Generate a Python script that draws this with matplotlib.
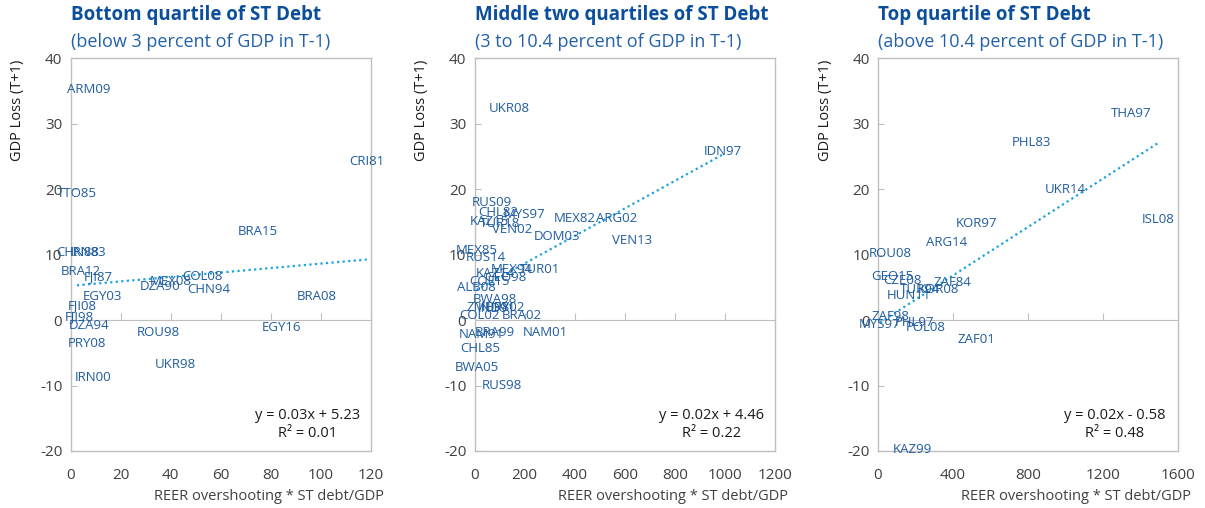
import matplotlib
matplotlib.use("Agg")
import matplotlib.pyplot as plt
import numpy as np

plt.rcParams['font.family'] = ['Open Sans', 'DejaVu Sans']
plt.rcParams['axes.unicode_minus'] = False

# bottom quartile of short-term debt
p1_names = ["ARM09", "CRI81", "TTO85", "BRA15", "CHN88", "IRN83", "BRA12", "FJI87",
            "MEX08", "DZA90", "COL08", "CHN94", "EGY03", "BRA08", "FJI08", "FJI98",
            "DZA94", "ROU98", "EGY16", "PRY08", "UKR98", "IRN00"]
p1_x = [7.3, 118.4, 2.5, 74.7, 2.9, 6.9, 4.1, 10.9, 39.8, 35.8, 52.6, 55.4, 12.6, 98.4,
        4.5, 3.3, 7.3, 35.0, 84.3, 6.5, 41.8, 8.9]
p1_y = [35.2, 24.2, 19.3, 13.6, 10.3, 10.3, 7.5, 6.6, 5.9, 5.1, 6.6, 4.6, 3.6, 3.6,
        2.2, 0.5, -0.9, -1.9, -1.2, -3.5, -6.8, -8.8]

# middle two quartiles
p2_names = ["UKR08", "IDN97", "RUS09", "CHL82", "MYS97", "KAZ15", "TUR18", "VEN02",
            "MEX82", "ARG02", "DOM03", "VEN13", "MEX85", "RUS14", "MEX94", "TUR01",
            "KAZ14", "GEO98", "COL15", "ALB08", "BWA98", "ZMB98", "IND91", "URY02",
            "COL02", "BRA02", "NAM91", "BRA99", "NAM01", "CHL85", "BWA05", "RUS98"]
p2_x = [137, 992, 68, 93, 201, 57, 101, 148, 401, 567, 328, 631, 10, 44, 148, 261,
        81, 121, 61, 8, 81, 53, 89, 121, 21, 188, 28, 81, 281, 21, 8, 108]
p2_y = [32.3, 25.7, 17.9, 16.4, 16.1, 15.0, 14.7, 13.8, 15.5, 15.5, 12.7, 12.2, 10.7,
        9.6, 7.8, 7.7, 7.1, 6.5, 5.9, 5.0, 3.1, 1.9, 1.7, 2.0, 0.7, 0.7, -2.2, -1.9,
        -1.9, -4.4, -7.2, -10.0]

# top quartile
p3_names = ["THA97", "PHL83", "UKR14", "ISL08", "KOR97", "ARG14", "ROU08", "GEO15",
            "CZE08", "ZAF84", "TUR94", "KOR08", "HUN11", "ZAF98", "MYS97", "PHL97",
            "POL08", "ZAF01", "KAZ99"]
p3_x = [1349, 820, 997, 1493, 526, 363, 64, 78, 132, 398, 224, 322, 162, 68, 11, 197,
        256, 523, 183]
p3_y = [31.5, 27.2, 19.9, 15.3, 14.8, 11.9, 10.1, 6.7, 6.1, 5.7, 4.7, 4.7, 3.8, 0.5,
        -0.6, -0.4, -1.1, -2.9, -19.7]

titles = ["Bottom quartile of ST Debt", "Middle two quartiles of ST Debt",
          "Top quartile of ST Debt"]
subtitles = ["(below 3 percent of GDP in T-1)", "(3 to 10.4 percent of GDP in T-1)",
             "(above 10.4 percent of GDP in T-1)"]
slopes = [0.034, 0.021, 0.0185]
intercepts = [5.23, 4.46, -0.58]
r2 = [0.01, 0.22, 0.48]
xmax = [120, 1200, 1600]
xstep = [20, 200, 400]

panels = [(p1_names, p1_x, p1_y), (p2_names, p2_x, p2_y), (p3_names, p3_x, p3_y)]

W, H = 1205, 508
fig = plt.figure(figsize=(W / 100, H / 100), dpi=100)

lefts = [70.7, 474.7, 878]
top_px, bot_px, width_px = 58.3, 451, 300
ylab_x = [18, 422, 825]

title_col = "#0B4F9C"
sub_col = "#2261AA"
lab_col = "#1F5CA0"
grey = "#BFBFBF"
tick_col = "#404040"
trend_col = "#1AA3E0"

ymin, ymax = -20, 40
for i, (names, xs, ys) in enumerate(panels):
    ax = fig.add_axes([lefts[i] / W, 1 - bot_px / H, width_px / W, (bot_px - top_px) / H])
    ax.set_xlim(0, xmax[i])
    ax.set_ylim(ymin, ymax)
    for s in ax.spines.values():
        s.set_color(grey)
        s.set_linewidth(1)
    ax.set_xticks(np.arange(0, xmax[i] + 1, xstep[i]))
    ax.set_yticks(np.arange(ymin, ymax + 1, 10))
    ax.tick_params(axis='x', length=0, colors=tick_col, labelsize=11, pad=12)
    ax.tick_params(axis='y', direction='in', length=4, color=grey,
                   labelcolor=tick_col, labelsize=11, pad=6)

    # horizontal axis crossing at zero, with inward ticks
    zero = (0 - ymin) / (ymax - ymin)
    sec = ax.secondary_xaxis(zero)
    sec.set_xticks(np.arange(0, xmax[i] + 1, xstep[i]))
    sec.tick_params(direction='in', length=5, color=grey, labelbottom=False,
                    labeltop=False)
    sec.spines['bottom'].set_color(grey)
    sec.spines['top'].set_visible(False)

    # linear trend over the data range
    xx = np.array([min(xs), max(xs)])
    ax.plot(xx, slopes[i] * xx + intercepts[i], linestyle=(0, (1, 1.5)),
            color=trend_col, lw=1.6)

    for n, x, y in zip(names, xs, ys):
        ax.text(x, y, n, ha='center', va='center', fontsize=9.5, color=lab_col)

    sign = '+' if intercepts[i] >= 0 else '-'
    eq = f"y = {slopes[i]:.2f}x {sign} {abs(intercepts[i]):.2f}\nR\u00b2 = {r2[i]:.2f}"
    ax.text(0.79, 0.068, eq, transform=ax.transAxes, ha='center', va='center',
            fontsize=10.5, color='#1a1a1a', linespacing=1.25)

    fig.text(lefts[i] / W, 1 - 15 / H, titles[i], fontsize=13.5, fontweight='bold',
             color=title_col, ha='left', va='center')
    fig.text(lefts[i] / W, 1 - 42 / H, subtitles[i], fontsize=13, color=sub_col,
             ha='left', va='center')
    fig.text(ylab_x[i] / W, 1 - 110 / H, "GDP Loss (T+1)", rotation=90, fontsize=10.5,
             color='#1a1a1a', ha='center', va='center')
    fig.text((lefts[i] + 313) / W, 1 - 497 / H, "REER overshooting * ST debt/GDP",
             fontsize=10.5, color=tick_col, ha='right', va='center')

fig.savefig("out.png", dpi=100)
